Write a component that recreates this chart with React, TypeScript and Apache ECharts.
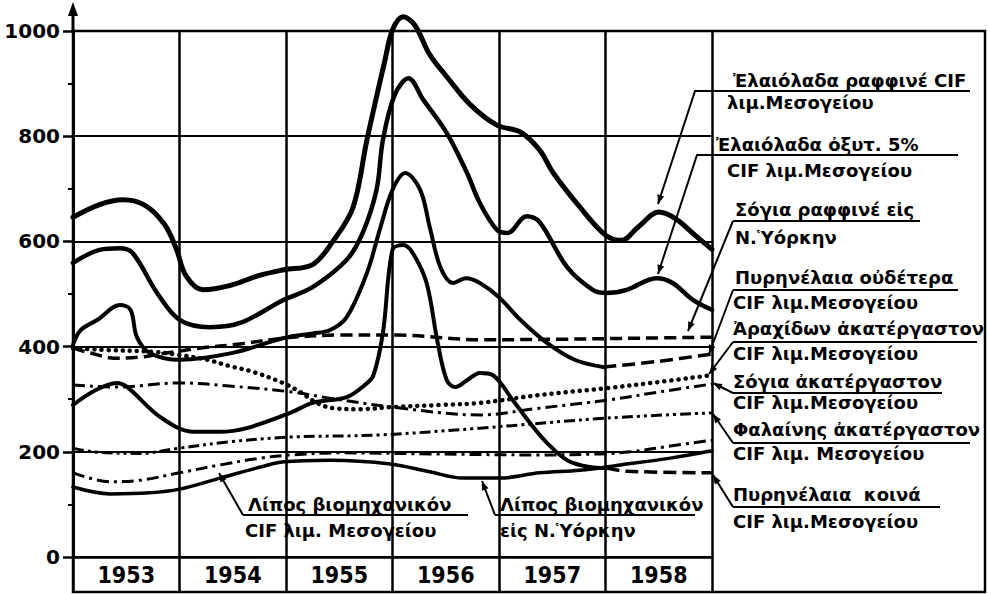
import React, { useEffect, useRef } from "react";
import * as echarts from "echarts";

// ---------- data (x = year position, y = value) ----------
const years = ["1953", "1954", "1955", "1956", "1957", "1958"];
const yearRange = [1953, 1959];
const yTickValues = [0, 200, 400, 600, 800, 1000];

// Ἐλαιόλαδα ραφφινέ CIF λιμ. Μεσογείου (solid, thick)
const oliveRefined: [number, number][] = [
  [1953.0, 646], [1953.25, 670], [1953.47, 679], [1953.68, 668], [1953.86, 632],
  [1953.97, 586], [1954.06, 535], [1954.22, 508], [1954.47, 516], [1954.76, 536],
  [1954.98, 546], [1955.25, 556], [1955.44, 600], [1955.63, 665], [1955.76, 793],
  [1955.93, 945], [1956.0, 1002], [1956.1, 1027], [1956.21, 1011], [1956.35, 955],
  [1956.51, 913], [1956.73, 860], [1956.98, 821], [1957.2, 808], [1957.38, 774],
  [1957.51, 730], [1957.76, 665], [1958.0, 612], [1958.15, 602], [1958.31, 628],
  [1958.5, 656], [1958.66, 643], [1958.85, 610], [1959.0, 585],
];
// Ἐλαιόλαδα ὀξυτ. 5% CIF λιμ. Μεσογείου (solid, thick)
const olive5: [number, number][] = [
  [1953.0, 559], [1953.25, 584], [1953.44, 587], [1953.56, 578], [1953.79, 502],
  [1954.0, 451], [1954.29, 437], [1954.57, 445], [1954.98, 489], [1955.25, 513],
  [1955.57, 565], [1955.72, 616], [1955.85, 698], [1955.91, 793], [1956.02, 878],
  [1956.15, 910], [1956.29, 869], [1956.51, 806], [1956.7, 730], [1956.82, 673],
  [1956.98, 622], [1957.08, 616], [1957.26, 648], [1957.38, 637], [1957.64, 551],
  [1957.88, 508], [1958.01, 502], [1958.2, 508], [1958.48, 530], [1958.63, 521],
  [1958.82, 489], [1959.0, 470],
];
// Πυρηνέλαια οὐδέτερα (solid to 1958, dashed after)
const pomaceNeutral: [number, number][] = [
  [1953.0, 403], [1953.07, 431], [1953.23, 451], [1953.44, 479], [1953.54, 470],
  [1953.6, 418], [1953.72, 388], [1954.0, 375], [1954.5, 388], [1954.97, 416],
  [1955.25, 425], [1955.41, 431], [1955.57, 456], [1955.76, 540], [1955.88, 622],
  [1956.0, 698], [1956.12, 730], [1956.26, 698], [1956.35, 627], [1956.45, 551],
  [1956.57, 521], [1956.69, 530], [1956.82, 521], [1957.0, 494], [1957.2, 451],
  [1957.45, 407], [1957.71, 375], [1957.98, 361],
];
const pomaceNeutralEst: [number, number][] = [[1957.98, 361], [1958.5, 372], [1959.0, 386]];
// Πυρηνέλαια κοινά (solid to 1958, dashed after)
const pomaceCommon: [number, number][] = [
  [1953.0, 289], [1953.21, 317], [1953.41, 331], [1953.51, 323], [1953.82, 266],
  [1954.13, 238], [1954.38, 238], [1954.63, 245], [1955.04, 274], [1955.25, 293],
  [1955.57, 304], [1955.74, 327], [1955.82, 345], [1955.91, 426], [1956.0, 584],
  [1956.1, 593], [1956.19, 578], [1956.32, 521], [1956.42, 412], [1956.51, 336],
  [1956.59, 323], [1956.7, 336], [1956.82, 350], [1956.94, 346], [1957.13, 298],
  [1957.29, 255], [1957.45, 217], [1957.64, 184], [1957.85, 171], [1958.01, 169],
];
const pomaceCommonEst: [number, number][] = [[1958.01, 169], [1958.2, 163], [1959.0, 160]];
// Σόγια ραφφινέ εἰς Ν. Ὑόρκην (dashed)
const soyRefinedNY: [number, number][] = [
  [1953.0, 397], [1953.16, 388], [1953.39, 378], [1953.63, 380], [1953.82, 386],
  [1954.19, 397], [1954.57, 405], [1954.97, 416], [1955.51, 422], [1956.04, 422],
  [1956.82, 413], [1957.57, 414], [1958.32, 416], [1959.0, 418],
];
// Ἀραχίδων ἀκατέργαστον (dotted)
const groundnutCrude: [number, number][] = [
  [1953.0, 397], [1953.25, 394], [1953.75, 390], [1954.0, 384], [1954.26, 375],
  [1954.47, 363], [1954.69, 352], [1954.97, 331], [1955.13, 314], [1955.29, 293],
  [1955.44, 283], [1955.69, 281], [1956.0, 285], [1956.45, 289], [1956.82, 293],
  [1957.38, 308], [1958.01, 321], [1958.51, 333], [1959.0, 346],
];
// Σόγια ἀκατέργαστον (dash-dot)
const soyCrude: [number, number][] = [
  [1953.0, 327], [1953.41, 323], [1954.0, 331], [1954.47, 325], [1955.04, 314],
  [1955.41, 302], [1956.0, 285], [1956.82, 270], [1957.38, 283], [1958.01, 298],
  [1958.51, 314], [1959.0, 329],
];
// Φαλαίνης ἀκατέργαστον (dash-dot-dot)
const whaleCrude: [number, number][] = [
  [1953.0, 207], [1953.19, 200], [1953.63, 197], [1954.0, 207], [1954.47, 219],
  [1955.04, 228], [1955.88, 232], [1956.82, 245], [1958.01, 264], [1959.0, 274],
];
// Λίπος βιομηχανικόν CIF λιμ. Μεσογείου (dash-dot)
const tallowMed: [number, number][] = [
  [1953.0, 160], [1953.35, 143], [1953.63, 146], [1954.0, 160], [1954.38, 175],
  [1954.76, 188], [1955.04, 194], [1955.51, 198], [1956.35, 196], [1957.38, 194],
  [1957.95, 196], [1958.23, 200], [1958.61, 211], [1959.0, 222],
];
// Λίπος βιομηχανικόν εἰς Ν. Ὑόρκην (solid, thinner)
const tallowNY: [number, number][] = [
  [1953.0, 133], [1953.35, 120], [1953.72, 122], [1954.0, 129], [1954.38, 150],
  [1954.76, 171], [1954.98, 181], [1955.41, 184], [1955.98, 177], [1956.35, 162],
  [1956.66, 150], [1957.01, 150], [1957.38, 160], [1957.76, 165], [1958.14, 175],
  [1958.61, 188], [1959.0, 202],
];

// ---------- annotation layout ----------
const FONT = '"DejaVu Sans", "Noto Sans", sans-serif';
const labelFont = `bold 18px ${FONT}`;

type Label = { lines: [string, number, number][]; underline: [number, number, number]; leader: [number, number][] };
const rightLabels: Label[] = [
  { lines: [["Ἐλαιόλαδα ραφφινέ CIF", 733, 80], ["λιμ.Μεσογείου", 727, 102]], underline: [713, 970, 91], leader: [[713, 91], [695, 91], [658, 204]] },
  { lines: [["Ἐλαιόλαδα ὀξυτ. 5%", 716, 144], ["CIF λιμ.Μεσογείου", 727, 170]], underline: [713, 958, 155], leader: [[713, 155], [697, 155], [658, 274]] },
  { lines: [["Σόγια ραφφινέ εἰς", 735, 209], ["Ν.Ὑόρκην", 735, 237]], underline: [733, 920, 221], leader: [[733, 221], [688, 331]] },
  { lines: [["Πυρηνέλαια οὐδέτερα", 735, 277], ["CIF λιμ.Μεσογείου", 733, 302]], underline: [733, 958, 290], leader: [[733, 290], [709, 354]] },
  { lines: [["Ἀραχίδων ἀκατέργαστον", 733, 328], ["CIF λιμ.Μεσογείου", 733, 353]], underline: [733, 977, 342], leader: [[733, 342], [709, 374]] },
  { lines: [["Σόγια ἀκατέργαστον", 733, 381], ["CIF λιμ.Μεσογείου", 733, 402]], underline: [733, 942, 393], leader: [[733, 393], [713, 383]] },
  { lines: [["Φαλαίνης ἀκατέργαστον", 733, 429], ["CIF λιμ. Μεσογείου", 733, 453]], underline: [733, 970, 443], leader: [[733, 443], [713, 414]] },
  { lines: [["Πυρηνέλαια  κοινά", 733, 494], ["CIF λιμ.Μεσογείου", 733, 521]], underline: [733, 940, 507], leader: [[733, 507], [713, 475]] },
];
const bottomLabels: Label[] = [
  { lines: [["Λίπος βιομηχανικόν", 248, 504], ["CIF λιμ. Μεσογείου", 245, 530]], underline: [243, 468, 515], leader: [[243, 515], [219, 473]] },
  { lines: [["Λίπος βιομηχανικόν", 500, 504], ["εἰς Ν.Ὑόρκην", 500, 530]], underline: [495, 695, 515], leader: [[495, 515], [482, 481]] },
];

function arrowHead(tip: [number, number], from: [number, number], len = 9, half = 3.5) {
  const dx = tip[0] - from[0], dy = tip[1] - from[1];
  const d = Math.hypot(dx, dy) || 1;
  const ux = dx / d, uy = dy / d;
  const bx = tip[0] - ux * len, by = tip[1] - uy * len;
  return [[tip[0], tip[1]], [bx - uy * half, by + ux * half], [bx + uy * half, by - ux * half]];
}

function buildGraphics() {
  const g: any[] = [];
  g.push({ type: "rect", shape: { x: 73, y: 31, width: 912, height: 561 }, style: { fill: "none", stroke: "#000", lineWidth: 2.5 } });
  g.push({ type: "line", shape: { x1: 73, y1: 31, x2: 73, y2: 12 }, style: { stroke: "#000", lineWidth: 3 } });
  g.push({ type: "polygon", shape: { points: [[73, 2], [68, 16], [78, 16]] }, style: { fill: "#000" } });
  for (const lab of [...rightLabels, ...bottomLabels]) {
    for (const [t, x, y] of lab.lines) {
      g.push({ type: "text", x, y, style: { text: t, font: labelFont, fill: "#000", verticalAlign: "middle", align: "left" } });
    }
    const [x1, x2, uy] = lab.underline;
    g.push({ type: "line", shape: { x1, y1: uy, x2, y2: uy }, style: { stroke: "#000", lineWidth: 2 } });
    g.push({ type: "polyline", shape: { points: lab.leader }, style: { stroke: "#000", lineWidth: 2, fill: "none" } });
    const n = lab.leader.length;
    g.push({ type: "polygon", shape: { points: arrowHead(lab.leader[n - 1] as any, lab.leader[n - 2] as any) }, style: { fill: "#000" } });
  }
  return g;
}

function lineSeries(name: string, data: [number, number][], width: number, type: any, cap = "butt") {
  return {
    name, type: "line", data, xAxisIndex: 0, yAxisIndex: 0, showSymbol: false, symbol: "none",
    smooth: 0.35, clip: false, silent: true,
    lineStyle: { color: "#000", width, type, cap: type === "solid" ? "round" : cap, join: "round" },
  };
}

export default function App() {
  const ref = useRef<HTMLDivElement>(null);
  useEffect(() => {
    if (!ref.current) return;
    const chart = echarts.init(ref.current, undefined, { renderer: "svg" });
    const dotted = [0.1, 7];
    const option: any = {
      animation: false,
      backgroundColor: "#fff",
      grid: { left: 73, right: 276, top: 31, bottom: 37, containLabel: false },
      xAxis: [
        {
          type: "value", min: yearRange[0], max: yearRange[1], interval: 1, position: "bottom",
          axisLine: { show: true, onZero: false, lineStyle: { color: "#000", width: 2.5 } },
          axisTick: { show: true, inside: false, length: 35, lineStyle: { color: "#000", width: 2.5 } },
          axisLabel: { show: false },
          splitLine: { show: true, lineStyle: { color: "#000", width: 2.5 } },
        },
        {
          type: "category", data: years, position: "bottom", boundaryGap: true,
          axisLine: { show: false }, axisTick: { show: false }, splitLine: { show: false },
          axisLabel: { show: true, margin: 6, color: "#000", fontSize: 23, fontWeight: "bold", fontFamily: '"DejaVu Sans Condensed", "DejaVu Sans", sans-serif' },
        },
      ],
      yAxis: {
        type: "value", min: yTickValues[0], max: yTickValues[yTickValues.length - 1],
        interval: yTickValues[1] - yTickValues[0],
        axisLine: { show: true, lineStyle: { color: "#000", width: 3 } },
        axisTick: { show: true, length: 10, lineStyle: { color: "#000", width: 2.5 } },
        minorTick: { show: true, splitNumber: 2, length: 5, lineStyle: { color: "#000", width: 2 } },
        axisLabel: { color: "#000", fontSize: 20, fontWeight: "bold", fontFamily: FONT, margin: 13, formatter: (v: number) => String(v) },
        splitLine: { show: true, lineStyle: { color: "#000", width: 2 } },
      },
      series: [
        lineSeries("Ἐλαιόλαδα ραφφινέ", oliveRefined, 5, "solid"),
        lineSeries("Ἐλαιόλαδα ὀξυτ. 5%", olive5, 4.5, "solid"),
        lineSeries("Πυρηνέλαια οὐδέτερα", pomaceNeutral, 4, "solid"),
        lineSeries("Πυρηνέλαια οὐδέτερα (εκτ.)", pomaceNeutralEst, 3.5, [13, 6]),
        lineSeries("Πυρηνέλαια κοινά", pomaceCommon, 4, "solid"),
        lineSeries("Πυρηνέλαια κοινά (εκτ.)", pomaceCommonEst, 3.5, [13, 6]),
        lineSeries("Σόγια ραφφινέ", soyRefinedNY, 3.5, [12, 6]),
        lineSeries("Ἀραχίδων ἀκατέργαστον", groundnutCrude, 4.5, dotted, "round"),
        lineSeries("Σόγια ἀκατέργαστον", soyCrude, 3, [12, 5, 3, 5]),
        lineSeries("Φαλαίνης ἀκατέργαστον", whaleCrude, 3, [11, 4, 3, 4, 3, 4]),
        lineSeries("Λίπος βιομηχανικόν CIF", tallowMed, 3, [12, 5, 3, 5]),
        lineSeries("Λίπος βιομηχανικόν Ν.Υ.", tallowNY, 3.5, "solid"),
      ],
      graphic: buildGraphics(),
    };
    chart.setOption(option);
    return () => chart.dispose();
  }, []);
  return <div ref={ref} style={{ position: "fixed", left: 0, top: 0, width: 988, height: 594, background: "#fff" }} />;
}
